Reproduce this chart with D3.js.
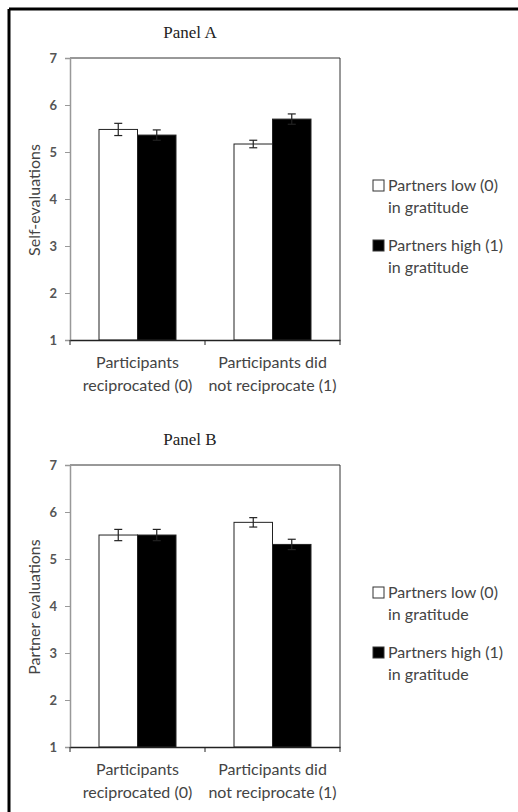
<!DOCTYPE html>
<html>
<head>
<meta charset="utf-8">
<script src="https://cdn.jsdelivr.net/npm/d3@7"></script>
<style>
  body { margin: 0; background: #fff; }
  svg { display: block; }
</style>
</head>
<body>
<svg id="chart" width="518" height="812"></svg>
<script>
// categories and series
const categories = ["Participants|reciprocated (0)", "Participants did|not reciprocate (1)"];
const seriesNames = ["Partners low (0)|in gratitude", "Partners high (1)|in gratitude"];
const yTicks = [1, 2, 3, 4, 5, 6, 7];

// Panel A - self-evaluations
const selfMeans = [[5.48, 5.36], [5.17, 5.70]];
const selfErrors = [[0.13, 0.11], [0.08, 0.11]];

// Panel B - partner evaluations
const partnerMeans = [[5.51, 5.51], [5.78, 5.31]];
const partnerErrors = [[0.12, 0.12], [0.10, 0.11]];

const svg = d3.select("#chart");
const sans = "Lato, 'Open Sans', sans-serif";
const textGray = "#444";

// outer frame (top and left edges only)
svg.append("line").attr("x1", 9).attr("y1", 9).attr("x2", 518).attr("y2", 9)
    .attr("stroke", "#000").attr("stroke-width", 3);
svg.append("line").attr("x1", 9).attr("y1", 9).attr("x2", 9).attr("y2", 812)
    .attr("stroke", "#000").attr("stroke-width", 3);

function drawPanel(top, title, yLabel, means, errors) {
    const left = 70, right = 340;
    const plotTop = top, plotBottom = top + 282;

    const x = d3.scaleBand().domain(categories).range([left, right]).paddingInner(0).paddingOuter(0);
    const xInner = d3.scaleBand().domain([0, 1]).range([0, 77]);
    const y = d3.scaleLinear().domain([1, 7]).range([plotBottom, plotTop]);

    const g = svg.append("g");

    // title
    g.append("text")
        .attr("x", 190).attr("y", top - 20)
        .attr("text-anchor", "middle")
        .attr("font-family", "'Liberation Serif', serif")
        .attr("font-size", "17px")
        .attr("fill", "#222")
        .text(title);

    // plot box top and right
    g.append("line").attr("x1", left).attr("x2", right).attr("y1", plotTop).attr("y2", plotTop)
        .attr("stroke", "#333").attr("stroke-width", 1);
    g.append("line").attr("x1", right).attr("x2", right).attr("y1", plotTop).attr("y2", plotBottom)
        .attr("stroke", "#333").attr("stroke-width", 1);

    // bars
    categories.forEach((cat, ci) => {
        const gx = x(cat) + x.bandwidth() / 2 - 38.5;
        [0, 1].forEach(si => {
            const bx = gx + xInner(si);
            const v = means[ci][si];
            g.append("rect")
                .attr("x", bx).attr("y", y(v))
                .attr("width", xInner.bandwidth()).attr("height", y(1) - y(v))
                .attr("fill", si === 0 ? "#fff" : "#000")
                .attr("stroke", "#222").attr("stroke-width", 1);
            // error bar
            const e = errors[ci][si];
            const cx = bx + xInner.bandwidth() / 2;
            const ew = 4;
            const eb = g.append("g").attr("stroke", "#222").attr("stroke-width", 1.2);
            eb.append("line").attr("x1", cx).attr("x2", cx).attr("y1", y(v + e)).attr("y2", y(v - e));
            eb.append("line").attr("x1", cx - ew).attr("x2", cx + ew).attr("y1", y(v + e)).attr("y2", y(v + e));
            eb.append("line").attr("x1", cx - ew).attr("x2", cx + ew).attr("y1", y(v - e)).attr("y2", y(v - e));
        });
    });

    // y axis
    const yAxis = g.append("g")
        .attr("transform", `translate(${left},0)`)
        .call(d3.axisLeft(y).tickValues(yTicks).tickSize(5).tickPadding(8).tickFormat(d3.format("d")));
    yAxis.select(".domain").attr("stroke", "#999").attr("stroke-width", 1.5);
    yAxis.selectAll(".tick line").attr("stroke", "#999");
    yAxis.selectAll(".tick text").attr("font-family", sans).attr("font-size", "13px")
        .attr("font-weight", "bold").attr("fill", "#555");

    // x axis
    const xAxis = g.append("g")
        .attr("transform", `translate(0,${plotBottom})`)
        .call(d3.axisBottom(x).tickSize(0).tickFormat(""));
    xAxis.select(".domain").attr("stroke", "#222").attr("stroke-width", 1.5);
    [left, (left + right) / 2, right].forEach(tx => {
        xAxis.append("line").attr("x1", tx).attr("x2", tx).attr("y1", 0).attr("y2", 5)
            .attr("stroke", "#222");
    });

    // category labels
    categories.forEach(cat => {
        const lines = cat.split("|");
        lines.forEach((t, i) => {
            g.append("text")
                .attr("x", x(cat) + x.bandwidth() / 2)
                .attr("y", plotBottom + 28 + i * 23)
                .attr("text-anchor", "middle")
                .attr("font-family", sans).attr("font-size", "16px")
                .attr("fill", textGray)
                .text(t);
        });
    });

    // y label
    g.append("text")
        .attr("transform", `translate(40,${(plotTop + plotBottom) / 2 + 1}) rotate(-90)`)
        .attr("text-anchor", "middle")
        .attr("font-family", sans).attr("font-size", "16px")
        .attr("fill", textGray)
        .text(yLabel);

    // legend
    seriesNames.forEach((name, si) => {
        const ly = top + 133 + si * 60;
        g.append("rect")
            .attr("x", 373).attr("y", ly - 11)
            .attr("width", 11).attr("height", 11)
            .attr("fill", si === 0 ? "#fff" : "#000")
            .attr("stroke", "#333").attr("stroke-width", 1);
        name.split("|").forEach((t, i) => {
            g.append("text")
                .attr("x", 388).attr("y", ly + i * 22)
                .attr("font-family", sans).attr("font-size", "16px")
                .attr("fill", textGray)
                .text(t);
        });
    });
}

drawPanel(58, "Panel A", "Self-evaluations", selfMeans, selfErrors);
drawPanel(465, "Panel B", "Partner evaluations", partnerMeans, partnerErrors);
</script>
</body>
</html>
